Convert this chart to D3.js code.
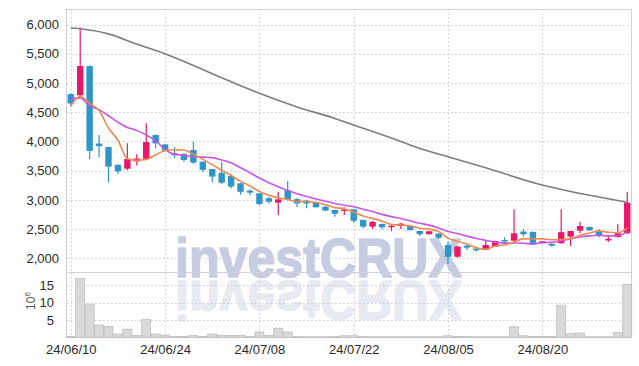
<!DOCTYPE html>
<html><head><meta charset="utf-8">
<script src="https://cdn.jsdelivr.net/npm/d3@7"></script>
<style>
html,body{margin:0;padding:0;background:#fff;}
svg{display:block;font-family:"Liberation Sans",Arial,sans-serif;}
</style></head><body>
<svg id="c" width="639" height="366"></svg>
<script>
const dates = ["24/06/10","24/06/11","24/06/12","24/06/13","24/06/14","24/06/17","24/06/18","24/06/19","24/06/20","24/06/21",
"24/06/24","24/06/25","24/06/26","24/06/27","24/06/28","24/07/01","24/07/02","24/07/03","24/07/04","24/07/05",
"24/07/08","24/07/09","24/07/10","24/07/11","24/07/12","24/07/15","24/07/16","24/07/17","24/07/18","24/07/19",
"24/07/22","24/07/23","24/07/24","24/07/25","24/07/26","24/07/29","24/07/30","24/07/31","24/08/01","24/08/02",
"24/08/05","24/08/06","24/08/07","24/08/08","24/08/09","24/08/12","24/08/13","24/08/14","24/08/16","24/08/19",
"24/08/20","24/08/21","24/08/22","24/08/23","24/08/26","24/08/27","24/08/28","24/08/29","24/08/30","24/09/02"];
const open  = [4810,4790,5290,3965,3905,3600,3535,3660,3705,4110,3950,3800,3785,3855,3655,3530,3465,3410,3285,3160,
               3115,3030,2955,3170,3015,2990,2965,2885,2830,2820,2840,2660,2545,2590,2535,2555,2555,2470,2415,2425,
               2230,2030,2220,2170,2145,2200,2315,2305,2460,2455,2260,2250,2260,2375,2475,2540,2475,2320,2365,2430];
const high  = [4820,5950,5300,4110,3910,3610,3970,3780,4310,4120,3960,3905,3800,3995,3660,3535,3655,3445,3295,3185,
               3120,3050,3140,3325,3030,3005,2970,2895,2835,2875,2850,2665,2645,2600,2570,2610,2565,2480,2470,2430,
               2285,2210,2260,2200,2300,2305,2360,2840,2505,2460,2300,2255,2840,2475,2630,2545,2505,2400,2590,3140];
const low   = [4600,4760,3700,3730,3300,3445,3510,3595,3700,3885,3830,3715,3655,3615,3475,3305,3270,3195,3090,3080,
               2915,2940,2745,2990,2880,2860,2870,2810,2715,2745,2610,2515,2505,2500,2465,2505,2480,2385,2410,2335,
               1905,2010,2145,2115,2140,2195,2250,2300,2375,2235,2255,2200,2255,2215,2430,2475,2360,2280,2360,2420];
const close = [4650,5290,3840,3920,3570,3490,3700,3710,3990,3970,3845,3765,3685,3640,3515,3400,3295,3230,3140,3125,
               2930,2970,3010,3010,2940,2940,2875,2820,2765,2840,2645,2545,2625,2535,2560,2595,2485,2415,2465,2355,
               2030,2205,2185,2140,2230,2300,2300,2430,2415,2240,2295,2220,2450,2470,2555,2480,2400,2335,2430,2955];
const volume = [0.3,17.0,9.6,3.6,3.2,1.0,2.4,0.6,5.2,1.0,0.7,0.3,0.3,0.6,0.3,1.0,0.6,0.6,0.6,0.3,
                1.6,0.6,2.7,1.6,0.3,0.2,0.2,0.2,0.3,0.5,0.5,0.3,0.2,0.2,0.2,0.2,0.2,0.2,0.2,0.2,
                0.5,0.3,0.3,0.2,0.2,0.2,0.2,3.1,0.5,0.3,0.3,0.3,9.3,1.1,1.3,0.2,0.2,0.2,1.5,15.3];
const ma5  = [4610,4770,4650,4530,4230,4022,3704,3678,3692,3772,3844,3858,3854,3784,3694,3604,3510,3418,3318,3240,
              3146,3080,3036,3010,2972,2974,2956,2918,2870,2850,2792,2726,2686,2638,2582,2572,2558,2516,2502,2462,
              2348,2293,2248,2184,2158,2212,2231,2280,2335,2337,2336,2320,2324,2335,2398,2435,2471,2448,2440,2520];
const ma10 = [4720,4745,4610,4545,4440,4330,4240,4190,4110,4013,3860,3781,3766,3738,3733,3724,3684,3636,3551,3467,
              3375,3295,3227,3164,3106,3060,3018,2977,2940,2911,2883,2841,2802,2754,2716,2682,2642,2601,2570,2522,
              2460,2426,2382,2343,2310,2280,2262,2264,2260,2248,2274,2276,2302,2335,2368,2386,2396,2386,2388,2459];
const maLongIdx = [0,1,4,7,10,13,16,20,24,28,30,34,37,40,44,50,53,56,59];
const maLongVal = [5940,5928,5840,5665,5500,5300,5090,4824,4590,4395,4282,4060,3880,3740,3550,3256,3145,3050,2960];
const tickLabels = ["24/06/10","24/06/24","24/07/08","24/07/22","24/08/05","24/08/20"];
const priceTicks = [2000,2500,3000,3500,4000,4500,5000,5500,6000];
const volTicks = [5,10,15];

const L=67,R=631,T=9,MB=272,VB=337.5;
const UP='#e6186a', DOWN='#2e95c9';
const svg = d3.select('#c');
const x = d3.scalePoint().domain(dates).range([L,R]).padding(0.4);
const y = d3.scaleLinear().domain([1769,6265]).range([MB,T]);
const yv = d3.scaleLinear().domain([0,18.7]).range([VB,MB+0.5]);

// watermark with reflection
svg.append('text').attr('x',175).attr('y',277).attr('textLength',287).attr('lengthAdjust','spacingAndGlyphs')
  .style('font-size','56px').style('font-weight','bold').attr('fill','#c6cde2')
  .attr('stroke','#c6cde2').attr('stroke-width',1.6).attr('stroke-linejoin','round').text('investCRUX');
svg.append('text').attr('x',175).attr('y',277).attr('textLength',287).attr('lengthAdjust','spacingAndGlyphs')
  .attr('transform','translate(0,558) scale(1,-1)')
  .style('font-size','56px').style('font-weight','bold').attr('fill','#e8eaf1')
  .attr('stroke','#e8eaf1').attr('stroke-width',1.6).attr('stroke-linejoin','round').text('investCRUX');

// grid
const grid = svg.append('g').attr('stroke','#c5c9dc').attr('stroke-dasharray','1.5,2.5').attr('stroke-width',1);
grid.selectAll('.hy').data(priceTicks).join('line').attr('x1',L).attr('x2',R)
  .attr('y1',d=>Math.round(y(d))+0.5).attr('y2',d=>Math.round(y(d))+0.5);
grid.selectAll('.hv').data(volTicks).join('line').attr('x1',L).attr('x2',R)
  .attr('y1',d=>Math.round(yv(d))+0.5).attr('y2',d=>Math.round(yv(d))+0.5);
grid.selectAll('.vx').data(tickLabels).join('line').attr('y1',T).attr('y2',VB)
  .attr('x1',d=>Math.round(x(d))+0.5).attr('x2',d=>Math.round(x(d))+0.5);

// borders
const b = svg.append('g').attr('stroke','#d0d0d8').attr('stroke-width',1);
b.append('line').attr('x1',L-0.5).attr('x2',L-0.5).attr('y1',T).attr('y2',VB);
b.append('line').attr('x1',R+0.5).attr('x2',R+0.5).attr('y1',T).attr('y2',VB);
b.append('line').attr('x1',L).attr('x2',R).attr('y1',T+0.5).attr('y2',T+0.5);
b.append('line').attr('x1',L).attr('x2',R).attr('y1',MB+0.5).attr('y2',MB+0.5);
b.append('line').attr('x1',L).attr('x2',R).attr('y1',VB).attr('y2',VB).attr('stroke','#c0c0c0');

// volume bars
svg.append('g').selectAll('rect').data(volume).join('rect')
  .attr('x',(d,i)=>x(dates[i])-4.5).attr('width',9)
  .attr('y',d=>yv(d)).attr('height',d=>yv(0)-yv(d))
  .attr('fill','#d9d9d9').attr('stroke','#b9b9b9').attr('stroke-width',0.7);

// candles
const cg = svg.append('g');
dates.forEach((dt,i)=>{
  const col = close[i]>=open[i]?UP:DOWN;
  const cx = x(dt);
  cg.append('line').attr('x1',cx).attr('x2',cx).attr('y1',y(high[i])).attr('y2',y(low[i]))
    .attr('stroke',col).attr('stroke-width',1.2);
  const top = y(Math.max(open[i],close[i])), bot = y(Math.min(open[i],close[i]));
  cg.append('rect').attr('x',cx-3.2).attr('width',6.4).attr('y',top).attr('height',Math.max(1.5,bot-top))
    .attr('fill',col);
});

// moving averages
const ln = d3.line().x((d,i)=>x(dates[i])).y(d=>y(d)).curve(d3.curveMonotoneX);
svg.append('path').attr('d',ln(ma10)).attr('fill','none').attr('stroke','#c755e6').attr('stroke-width',1.6);
svg.append('path').attr('d',ln(ma5)).attr('fill','none').attr('stroke','#ee8a50').attr('stroke-width',1.6);
const lnL = d3.line().x(d=>x(dates[d[0]])).y(d=>y(d[1])).curve(d3.curveMonotoneX);
svg.append('path').attr('d',lnL(maLongIdx.map((k,j)=>[k,maLongVal[j]]))).attr('fill','none')
  .attr('stroke','#7d7d7d').attr('stroke-width',1.6);

// axes
const ya = svg.append('g').attr('transform',`translate(${L},0)`)
  .call(d3.axisLeft(y).tickValues(priceTicks).tickSize(0).tickPadding(8).tickFormat(d3.format(',')));
const va = svg.append('g').attr('transform',`translate(${L},0)`)
  .call(d3.axisLeft(yv).tickValues(volTicks).tickSize(0).tickPadding(13).tickFormat(d3.format('d')));
const xa = svg.append('g').attr('transform',`translate(0,${VB})`)
  .call(d3.axisBottom(x).tickValues(tickLabels).tickSize(0).tickPadding(7.5));
[ya,va,xa].forEach(g=>{g.select('.domain').remove();
  g.selectAll('text').attr('fill','#2a2a2a').style('font-size','13px').style('font-family','"Liberation Sans",Arial,sans-serif');});

const u = svg.append('text').attr('transform','translate(35,301) rotate(-90)').attr('text-anchor','middle')
  .attr('fill','#555').style('font-size','12px');
u.append('tspan').text('10');
u.append('tspan').attr('dy',-5).style('font-size','8px').text('6');
</script>
</body></html>
